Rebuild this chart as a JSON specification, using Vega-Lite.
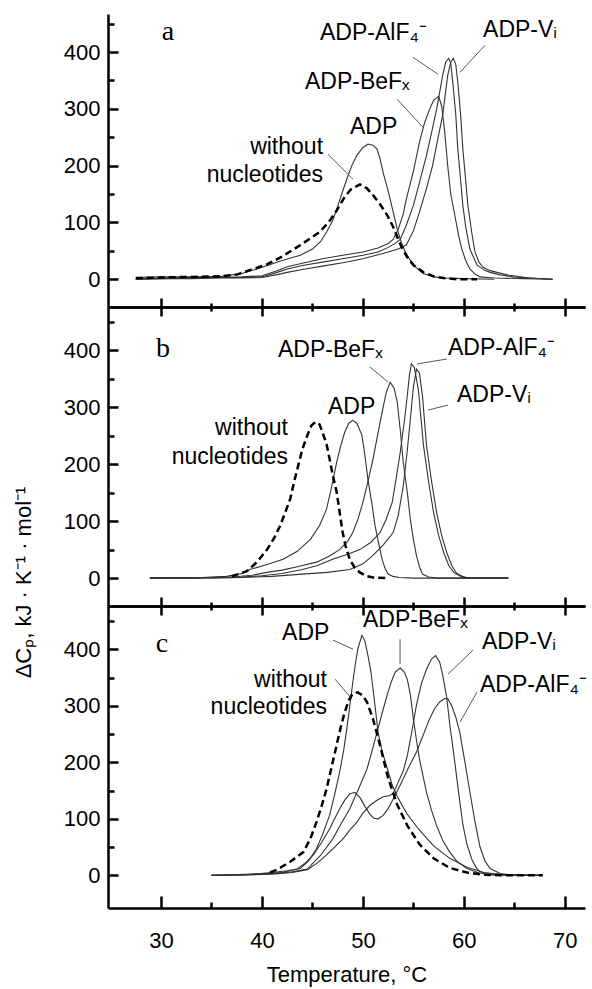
{
"$schema":"https://vega.github.io/schema/vega-lite/v6.json",
"padding":{"left":12,"top":12,"right":2,"bottom":2},
"background":"white",
"bounds":"flush",
"spacing":0,
"config":{"view":{"stroke":null},"axis":{"grid":false,"domainColor":"black","tickColor":"black","domainWidth":2.5,"tickWidth":2.5,"labelFont":"Liberation Sans","labelFontSize":22,"labelColor":"black","titleFont":"Liberation Sans","titleFontSize":22,"titleFontWeight":"normal","titleColor":"black","labelFlush":false,"labelOverlap":false}},
"datasets":{
"curves":[
{"p":"a","s":"none","T":27.5,"v":2},{"p":"a","s":"none","T":30,"v":3},{"p":"a","s":"none","T":33,"v":4},{"p":"a","s":"none","T":36,"v":5},{"p":"a","s":"none","T":37.5,"v":8},{"p":"a","s":"none","T":38.8,"v":16},{"p":"a","s":"none","T":40.5,"v":26},{"p":"a","s":"none","T":42,"v":40},{"p":"a","s":"none","T":43.8,"v":60},{"p":"a","s":"none","T":45.7,"v":83},{"p":"a","s":"none","T":46.6,"v":100},{"p":"a","s":"none","T":47.4,"v":121},{"p":"a","s":"none","T":48.2,"v":145},{"p":"a","s":"none","T":48.8,"v":158},{"p":"a","s":"none","T":49.7,"v":167},{"p":"a","s":"none","T":50.4,"v":160},{"p":"a","s":"none","T":51,"v":148},{"p":"a","s":"none","T":51.7,"v":132},{"p":"a","s":"none","T":52.4,"v":113},{"p":"a","s":"none","T":53,"v":92},{"p":"a","s":"none","T":53.5,"v":70},{"p":"a","s":"none","T":54,"v":50},{"p":"a","s":"none","T":54.5,"v":36},{"p":"a","s":"none","T":55,"v":25},{"p":"a","s":"none","T":56,"v":12},{"p":"a","s":"none","T":57,"v":5},{"p":"a","s":"none","T":58,"v":2},{"p":"a","s":"none","T":59.3,"v":0},{"p":"a","s":"none","T":61.3,"v":0},
{"p":"a","s":"ADP","T":27.5,"v":3},{"p":"a","s":"ADP","T":30,"v":4},{"p":"a","s":"ADP","T":33,"v":4},{"p":"a","s":"ADP","T":36,"v":5},{"p":"a","s":"ADP","T":38,"v":10},{"p":"a","s":"ADP","T":39.5,"v":18},{"p":"a","s":"ADP","T":42,"v":33},{"p":"a","s":"ADP","T":43.8,"v":42},{"p":"a","s":"ADP","T":45,"v":53},{"p":"a","s":"ADP","T":45.8,"v":66},{"p":"a","s":"ADP","T":46.4,"v":83},{"p":"a","s":"ADP","T":47,"v":103},{"p":"a","s":"ADP","T":47.4,"v":123},{"p":"a","s":"ADP","T":47.9,"v":150},{"p":"a","s":"ADP","T":48.4,"v":176},{"p":"a","s":"ADP","T":48.9,"v":200},{"p":"a","s":"ADP","T":49.4,"v":218},{"p":"a","s":"ADP","T":50,"v":232},{"p":"a","s":"ADP","T":50.5,"v":238},{"p":"a","s":"ADP","T":51,"v":236},{"p":"a","s":"ADP","T":51.4,"v":229},{"p":"a","s":"ADP","T":51.7,"v":212},{"p":"a","s":"ADP","T":52,"v":188},{"p":"a","s":"ADP","T":52.4,"v":162},{"p":"a","s":"ADP","T":52.7,"v":141},{"p":"a","s":"ADP","T":53,"v":118},{"p":"a","s":"ADP","T":53.4,"v":88},{"p":"a","s":"ADP","T":53.8,"v":65},{"p":"a","s":"ADP","T":54.2,"v":48},{"p":"a","s":"ADP","T":54.7,"v":33},{"p":"a","s":"ADP","T":55.3,"v":20},{"p":"a","s":"ADP","T":56,"v":10},{"p":"a","s":"ADP","T":57,"v":4},{"p":"a","s":"ADP","T":58,"v":2},{"p":"a","s":"ADP","T":60,"v":1},{"p":"a","s":"ADP","T":63,"v":0},
{"p":"a","s":"BeF","T":27.5,"v":0},{"p":"a","s":"BeF","T":30,"v":2},{"p":"a","s":"BeF","T":33,"v":3},{"p":"a","s":"BeF","T":36,"v":3},{"p":"a","s":"BeF","T":38,"v":4},{"p":"a","s":"BeF","T":40,"v":6},{"p":"a","s":"BeF","T":41.5,"v":15},{"p":"a","s":"BeF","T":42.5,"v":22},{"p":"a","s":"BeF","T":44,"v":28},{"p":"a","s":"BeF","T":46,"v":36},{"p":"a","s":"BeF","T":48,"v":42},{"p":"a","s":"BeF","T":50,"v":48},{"p":"a","s":"BeF","T":51.5,"v":55},{"p":"a","s":"BeF","T":52.5,"v":63},{"p":"a","s":"BeF","T":53,"v":70},{"p":"a","s":"BeF","T":53.5,"v":88},{"p":"a","s":"BeF","T":54,"v":115},{"p":"a","s":"BeF","T":54.3,"v":141},{"p":"a","s":"BeF","T":55,"v":190},{"p":"a","s":"BeF","T":55.6,"v":241},{"p":"a","s":"BeF","T":56.1,"v":275},{"p":"a","s":"BeF","T":56.6,"v":299},{"p":"a","s":"BeF","T":57,"v":315},{"p":"a","s":"BeF","T":57.5,"v":322},{"p":"a","s":"BeF","T":57.8,"v":305},{"p":"a","s":"BeF","T":58.1,"v":260},{"p":"a","s":"BeF","T":58.4,"v":200},{"p":"a","s":"BeF","T":58.7,"v":150},{"p":"a","s":"BeF","T":59.1,"v":113},{"p":"a","s":"BeF","T":59.5,"v":75},{"p":"a","s":"BeF","T":59.8,"v":53},{"p":"a","s":"BeF","T":60.2,"v":32},{"p":"a","s":"BeF","T":60.6,"v":18},{"p":"a","s":"BeF","T":61.1,"v":9},{"p":"a","s":"BeF","T":61.6,"v":4},{"p":"a","s":"BeF","T":63,"v":2},{"p":"a","s":"BeF","T":66,"v":1},{"p":"a","s":"BeF","T":68.8,"v":0},
{"p":"a","s":"AlF","T":27.5,"v":0},{"p":"a","s":"AlF","T":30,"v":1},{"p":"a","s":"AlF","T":33,"v":2},{"p":"a","s":"AlF","T":36,"v":3},{"p":"a","s":"AlF","T":38,"v":3},{"p":"a","s":"AlF","T":40,"v":4},{"p":"a","s":"AlF","T":41.5,"v":12},{"p":"a","s":"AlF","T":42.5,"v":18},{"p":"a","s":"AlF","T":44,"v":24},{"p":"a","s":"AlF","T":46,"v":30},{"p":"a","s":"AlF","T":48,"v":36},{"p":"a","s":"AlF","T":50,"v":42},{"p":"a","s":"AlF","T":51.5,"v":48},{"p":"a","s":"AlF","T":52.5,"v":56},{"p":"a","s":"AlF","T":53.2,"v":63},{"p":"a","s":"AlF","T":53.7,"v":70},{"p":"a","s":"AlF","T":54.3,"v":95},{"p":"a","s":"AlF","T":55,"v":130},{"p":"a","s":"AlF","T":55.6,"v":170},{"p":"a","s":"AlF","T":56.3,"v":218},{"p":"a","s":"AlF","T":56.8,"v":258},{"p":"a","s":"AlF","T":57.3,"v":299},{"p":"a","s":"AlF","T":57.9,"v":359},{"p":"a","s":"AlF","T":58.2,"v":382},{"p":"a","s":"AlF","T":58.5,"v":389},{"p":"a","s":"AlF","T":58.7,"v":380},{"p":"a","s":"AlF","T":58.9,"v":347},{"p":"a","s":"AlF","T":59.2,"v":290},{"p":"a","s":"AlF","T":59.4,"v":229},{"p":"a","s":"AlF","T":59.7,"v":170},{"p":"a","s":"AlF","T":59.9,"v":130},{"p":"a","s":"AlF","T":60.2,"v":90},{"p":"a","s":"AlF","T":60.6,"v":53},{"p":"a","s":"AlF","T":61.3,"v":25},{"p":"a","s":"AlF","T":62,"v":16},{"p":"a","s":"AlF","T":62.6,"v":12},{"p":"a","s":"AlF","T":63.5,"v":8},{"p":"a","s":"AlF","T":64.9,"v":4},{"p":"a","s":"AlF","T":66.5,"v":2},{"p":"a","s":"AlF","T":68.8,"v":0},
{"p":"a","s":"Vi","T":27.5,"v":0},{"p":"a","s":"Vi","T":30,"v":1},{"p":"a","s":"Vi","T":33,"v":1},{"p":"a","s":"Vi","T":36,"v":2},{"p":"a","s":"Vi","T":38,"v":2},{"p":"a","s":"Vi","T":40,"v":3},{"p":"a","s":"Vi","T":41.5,"v":8},{"p":"a","s":"Vi","T":42.5,"v":12},{"p":"a","s":"Vi","T":44,"v":17},{"p":"a","s":"Vi","T":46,"v":23},{"p":"a","s":"Vi","T":48,"v":29},{"p":"a","s":"Vi","T":50,"v":36},{"p":"a","s":"Vi","T":51.5,"v":43},{"p":"a","s":"Vi","T":52.5,"v":48},{"p":"a","s":"Vi","T":53.5,"v":53},{"p":"a","s":"Vi","T":54.3,"v":60},{"p":"a","s":"Vi","T":55,"v":85},{"p":"a","s":"Vi","T":55.6,"v":118},{"p":"a","s":"Vi","T":56.3,"v":160},{"p":"a","s":"Vi","T":56.9,"v":200},{"p":"a","s":"Vi","T":57.4,"v":245},{"p":"a","s":"Vi","T":57.9,"v":289},{"p":"a","s":"Vi","T":58.4,"v":359},{"p":"a","s":"Vi","T":58.7,"v":382},{"p":"a","s":"Vi","T":58.95,"v":389},{"p":"a","s":"Vi","T":59.2,"v":378},{"p":"a","s":"Vi","T":59.4,"v":347},{"p":"a","s":"Vi","T":59.7,"v":285},{"p":"a","s":"Vi","T":59.9,"v":229},{"p":"a","s":"Vi","T":60.2,"v":170},{"p":"a","s":"Vi","T":60.4,"v":130},{"p":"a","s":"Vi","T":60.8,"v":80},{"p":"a","s":"Vi","T":61.1,"v":48},{"p":"a","s":"Vi","T":61.5,"v":30},{"p":"a","s":"Vi","T":61.9,"v":21},{"p":"a","s":"Vi","T":62.6,"v":15},{"p":"a","s":"Vi","T":63.3,"v":12},{"p":"a","s":"Vi","T":64.5,"v":7},{"p":"a","s":"Vi","T":66.5,"v":2},{"p":"a","s":"Vi","T":68.8,"v":0},
{"p":"b","s":"none","T":37,"v":3},{"p":"b","s":"none","T":38.5,"v":12},{"p":"b","s":"none","T":39.5,"v":28},{"p":"b","s":"none","T":40.5,"v":50},{"p":"b","s":"none","T":41.2,"v":70},{"p":"b","s":"none","T":41.8,"v":92},{"p":"b","s":"none","T":42.3,"v":115},{"p":"b","s":"none","T":42.8,"v":139},{"p":"b","s":"none","T":43.2,"v":170},{"p":"b","s":"none","T":43.6,"v":198},{"p":"b","s":"none","T":44,"v":226},{"p":"b","s":"none","T":44.5,"v":251},{"p":"b","s":"none","T":44.9,"v":268},{"p":"b","s":"none","T":45.3,"v":274},{"p":"b","s":"none","T":45.7,"v":270},{"p":"b","s":"none","T":46,"v":256},{"p":"b","s":"none","T":46.4,"v":235},{"p":"b","s":"none","T":46.7,"v":209},{"p":"b","s":"none","T":47,"v":182},{"p":"b","s":"none","T":47.4,"v":151},{"p":"b","s":"none","T":47.7,"v":115},{"p":"b","s":"none","T":48,"v":80},{"p":"b","s":"none","T":48.3,"v":55},{"p":"b","s":"none","T":48.7,"v":33},{"p":"b","s":"none","T":49.2,"v":18},{"p":"b","s":"none","T":49.7,"v":10},{"p":"b","s":"none","T":50.3,"v":4},{"p":"b","s":"none","T":51,"v":1},{"p":"b","s":"none","T":52.4,"v":0},
{"p":"b","s":"ADP","T":28.9,"v":0},{"p":"b","s":"ADP","T":31,"v":1},{"p":"b","s":"ADP","T":33,"v":0},{"p":"b","s":"ADP","T":35,"v":2},{"p":"b","s":"ADP","T":36.5,"v":3},{"p":"b","s":"ADP","T":38,"v":8},{"p":"b","s":"ADP","T":38.8,"v":15},{"p":"b","s":"ADP","T":40.5,"v":24},{"p":"b","s":"ADP","T":42.1,"v":33},{"p":"b","s":"ADP","T":43.5,"v":47},{"p":"b","s":"ADP","T":44.8,"v":68},{"p":"b","s":"ADP","T":45.7,"v":92},{"p":"b","s":"ADP","T":46.4,"v":121},{"p":"b","s":"ADP","T":46.9,"v":160},{"p":"b","s":"ADP","T":47.4,"v":203},{"p":"b","s":"ADP","T":47.8,"v":232},{"p":"b","s":"ADP","T":48.2,"v":256},{"p":"b","s":"ADP","T":48.6,"v":272},{"p":"b","s":"ADP","T":49,"v":277},{"p":"b","s":"ADP","T":49.4,"v":272},{"p":"b","s":"ADP","T":49.9,"v":251},{"p":"b","s":"ADP","T":50.2,"v":215},{"p":"b","s":"ADP","T":50.5,"v":173},{"p":"b","s":"ADP","T":50.9,"v":130},{"p":"b","s":"ADP","T":51.2,"v":92},{"p":"b","s":"ADP","T":51.6,"v":58},{"p":"b","s":"ADP","T":51.9,"v":33},{"p":"b","s":"ADP","T":52.2,"v":17},{"p":"b","s":"ADP","T":52.5,"v":7},{"p":"b","s":"ADP","T":53,"v":3},{"p":"b","s":"ADP","T":53.6,"v":1},{"p":"b","s":"ADP","T":55,"v":0},{"p":"b","s":"ADP","T":64.4,"v":0},
{"p":"b","s":"BeF","T":28.9,"v":0},{"p":"b","s":"BeF","T":32,"v":1},{"p":"b","s":"BeF","T":35,"v":1},{"p":"b","s":"BeF","T":37,"v":2},{"p":"b","s":"BeF","T":39,"v":5},{"p":"b","s":"BeF","T":40.5,"v":10},{"p":"b","s":"BeF","T":42,"v":14},{"p":"b","s":"BeF","T":43.5,"v":20},{"p":"b","s":"BeF","T":45.4,"v":28},{"p":"b","s":"BeF","T":46.6,"v":38},{"p":"b","s":"BeF","T":47.7,"v":50},{"p":"b","s":"BeF","T":48.5,"v":65},{"p":"b","s":"BeF","T":49,"v":80},{"p":"b","s":"BeF","T":49.5,"v":103},{"p":"b","s":"BeF","T":50,"v":133},{"p":"b","s":"BeF","T":50.5,"v":170},{"p":"b","s":"BeF","T":51,"v":209},{"p":"b","s":"BeF","T":51.5,"v":255},{"p":"b","s":"BeF","T":51.9,"v":291},{"p":"b","s":"BeF","T":52.3,"v":325},{"p":"b","s":"BeF","T":52.7,"v":344},{"p":"b","s":"BeF","T":53.1,"v":333},{"p":"b","s":"BeF","T":53.4,"v":309},{"p":"b","s":"BeF","T":53.7,"v":260},{"p":"b","s":"BeF","T":54,"v":203},{"p":"b","s":"BeF","T":54.4,"v":150},{"p":"b","s":"BeF","T":54.7,"v":103},{"p":"b","s":"BeF","T":55,"v":68},{"p":"b","s":"BeF","T":55.3,"v":40},{"p":"b","s":"BeF","T":55.6,"v":20},{"p":"b","s":"BeF","T":55.9,"v":7},{"p":"b","s":"BeF","T":56.5,"v":2},{"p":"b","s":"BeF","T":57.5,"v":0},{"p":"b","s":"BeF","T":64.4,"v":0},
{"p":"b","s":"AlF","T":28.9,"v":0},{"p":"b","s":"AlF","T":32,"v":0},{"p":"b","s":"AlF","T":35,"v":1},{"p":"b","s":"AlF","T":38,"v":2},{"p":"b","s":"AlF","T":40,"v":4},{"p":"b","s":"AlF","T":42,"v":8},{"p":"b","s":"AlF","T":44,"v":15},{"p":"b","s":"AlF","T":45.5,"v":22},{"p":"b","s":"AlF","T":47,"v":33},{"p":"b","s":"AlF","T":48.5,"v":42},{"p":"b","s":"AlF","T":49.7,"v":50},{"p":"b","s":"AlF","T":50.8,"v":63},{"p":"b","s":"AlF","T":51.7,"v":80},{"p":"b","s":"AlF","T":52.3,"v":103},{"p":"b","s":"AlF","T":52.9,"v":133},{"p":"b","s":"AlF","T":53.3,"v":175},{"p":"b","s":"AlF","T":53.7,"v":221},{"p":"b","s":"AlF","T":54.1,"v":275},{"p":"b","s":"AlF","T":54.4,"v":321},{"p":"b","s":"AlF","T":54.6,"v":355},{"p":"b","s":"AlF","T":54.8,"v":376},{"p":"b","s":"AlF","T":55.1,"v":370},{"p":"b","s":"AlF","T":55.5,"v":330},{"p":"b","s":"AlF","T":55.7,"v":290},{"p":"b","s":"AlF","T":56,"v":233},{"p":"b","s":"AlF","T":56.5,"v":170},{"p":"b","s":"AlF","T":57,"v":115},{"p":"b","s":"AlF","T":57.5,"v":75},{"p":"b","s":"AlF","T":58,"v":45},{"p":"b","s":"AlF","T":58.5,"v":22},{"p":"b","s":"AlF","T":59,"v":10},{"p":"b","s":"AlF","T":59.7,"v":3},{"p":"b","s":"AlF","T":60.5,"v":0},{"p":"b","s":"AlF","T":64.4,"v":0},
{"p":"b","s":"Vi","T":28.9,"v":0},{"p":"b","s":"Vi","T":32,"v":0},{"p":"b","s":"Vi","T":35,"v":0},{"p":"b","s":"Vi","T":38,"v":1},{"p":"b","s":"Vi","T":41,"v":3},{"p":"b","s":"Vi","T":44,"v":7},{"p":"b","s":"Vi","T":46.5,"v":10},{"p":"b","s":"Vi","T":48.7,"v":15},{"p":"b","s":"Vi","T":50,"v":25},{"p":"b","s":"Vi","T":51,"v":40},{"p":"b","s":"Vi","T":52,"v":58},{"p":"b","s":"Vi","T":53,"v":80},{"p":"b","s":"Vi","T":53.5,"v":110},{"p":"b","s":"Vi","T":54,"v":162},{"p":"b","s":"Vi","T":54.4,"v":225},{"p":"b","s":"Vi","T":54.7,"v":279},{"p":"b","s":"Vi","T":55,"v":335},{"p":"b","s":"Vi","T":55.3,"v":367},{"p":"b","s":"Vi","T":55.6,"v":360},{"p":"b","s":"Vi","T":55.9,"v":320},{"p":"b","s":"Vi","T":56.3,"v":233},{"p":"b","s":"Vi","T":56.8,"v":170},{"p":"b","s":"Vi","T":57.3,"v":115},{"p":"b","s":"Vi","T":57.8,"v":75},{"p":"b","s":"Vi","T":58.3,"v":45},{"p":"b","s":"Vi","T":58.8,"v":22},{"p":"b","s":"Vi","T":59.3,"v":8},{"p":"b","s":"Vi","T":60,"v":2},{"p":"b","s":"Vi","T":60.5,"v":0},{"p":"b","s":"Vi","T":64.4,"v":0},
{"p":"c","s":"none","T":40.8,"v":5},{"p":"c","s":"none","T":41.5,"v":10},{"p":"c","s":"none","T":42.8,"v":24},{"p":"c","s":"none","T":44.1,"v":41},{"p":"c","s":"none","T":44.8,"v":65},{"p":"c","s":"none","T":45.4,"v":94},{"p":"c","s":"none","T":45.9,"v":122},{"p":"c","s":"none","T":46.4,"v":153},{"p":"c","s":"none","T":46.9,"v":192},{"p":"c","s":"none","T":47.4,"v":231},{"p":"c","s":"none","T":47.8,"v":262},{"p":"c","s":"none","T":48.2,"v":289},{"p":"c","s":"none","T":48.6,"v":310},{"p":"c","s":"none","T":49,"v":322},{"p":"c","s":"none","T":49.5,"v":324},{"p":"c","s":"none","T":50,"v":318},{"p":"c","s":"none","T":50.4,"v":307},{"p":"c","s":"none","T":51,"v":277},{"p":"c","s":"none","T":51.7,"v":230},{"p":"c","s":"none","T":52.5,"v":172},{"p":"c","s":"none","T":53.4,"v":125},{"p":"c","s":"none","T":54.4,"v":88},{"p":"c","s":"none","T":55.6,"v":55},{"p":"c","s":"none","T":57,"v":30},{"p":"c","s":"none","T":58.6,"v":13},{"p":"c","s":"none","T":60.3,"v":5},{"p":"c","s":"none","T":62,"v":1},{"p":"c","s":"none","T":64,"v":0},{"p":"c","s":"none","T":67.8,"v":0},
{"p":"c","s":"ADP","T":35,"v":0},{"p":"c","s":"ADP","T":37,"v":1},{"p":"c","s":"ADP","T":39,"v":2},{"p":"c","s":"ADP","T":41,"v":5},{"p":"c","s":"ADP","T":42.5,"v":8},{"p":"c","s":"ADP","T":43.8,"v":12},{"p":"c","s":"ADP","T":44.6,"v":25},{"p":"c","s":"ADP","T":45.4,"v":47},{"p":"c","s":"ADP","T":46,"v":72},{"p":"c","s":"ADP","T":46.7,"v":106},{"p":"c","s":"ADP","T":47.2,"v":143},{"p":"c","s":"ADP","T":47.7,"v":183},{"p":"c","s":"ADP","T":48.1,"v":222},{"p":"c","s":"ADP","T":48.4,"v":259},{"p":"c","s":"ADP","T":48.7,"v":300},{"p":"c","s":"ADP","T":49,"v":342},{"p":"c","s":"ADP","T":49.3,"v":380},{"p":"c","s":"ADP","T":49.5,"v":401},{"p":"c","s":"ADP","T":49.9,"v":425},{"p":"c","s":"ADP","T":50.2,"v":415},{"p":"c","s":"ADP","T":50.5,"v":389},{"p":"c","s":"ADP","T":50.8,"v":360},{"p":"c","s":"ADP","T":51,"v":330},{"p":"c","s":"ADP","T":51.3,"v":285},{"p":"c","s":"ADP","T":51.5,"v":253},{"p":"c","s":"ADP","T":51.9,"v":220},{"p":"c","s":"ADP","T":52.4,"v":190},{"p":"c","s":"ADP","T":52.9,"v":160},{"p":"c","s":"ADP","T":53.4,"v":140},{"p":"c","s":"ADP","T":54,"v":120},{"p":"c","s":"ADP","T":54.4,"v":108},{"p":"c","s":"ADP","T":55.5,"v":82},{"p":"c","s":"ADP","T":57,"v":52},{"p":"c","s":"ADP","T":58.6,"v":30},{"p":"c","s":"ADP","T":60.3,"v":14},{"p":"c","s":"ADP","T":62,"v":5},{"p":"c","s":"ADP","T":64,"v":1},{"p":"c","s":"ADP","T":67.8,"v":0},
{"p":"c","s":"BeF","T":35,"v":0},{"p":"c","s":"BeF","T":38,"v":1},{"p":"c","s":"BeF","T":41,"v":3},{"p":"c","s":"BeF","T":43,"v":6},{"p":"c","s":"BeF","T":44.5,"v":11},{"p":"c","s":"BeF","T":45.8,"v":35},{"p":"c","s":"BeF","T":47,"v":64},{"p":"c","s":"BeF","T":47.8,"v":90},{"p":"c","s":"BeF","T":48.7,"v":118},{"p":"c","s":"BeF","T":49.5,"v":150},{"p":"c","s":"BeF","T":50.4,"v":188},{"p":"c","s":"BeF","T":50.9,"v":220},{"p":"c","s":"BeF","T":51.4,"v":253},{"p":"c","s":"BeF","T":51.9,"v":287},{"p":"c","s":"BeF","T":52.4,"v":319},{"p":"c","s":"BeF","T":52.8,"v":342},{"p":"c","s":"BeF","T":53.2,"v":360},{"p":"c","s":"BeF","T":53.7,"v":367},{"p":"c","s":"BeF","T":54.1,"v":360},{"p":"c","s":"BeF","T":54.4,"v":347},{"p":"c","s":"BeF","T":54.7,"v":320},{"p":"c","s":"BeF","T":55,"v":277},{"p":"c","s":"BeF","T":55.3,"v":240},{"p":"c","s":"BeF","T":55.6,"v":206},{"p":"c","s":"BeF","T":56,"v":172},{"p":"c","s":"BeF","T":56.3,"v":147},{"p":"c","s":"BeF","T":56.8,"v":115},{"p":"c","s":"BeF","T":57.3,"v":88},{"p":"c","s":"BeF","T":57.9,"v":62},{"p":"c","s":"BeF","T":58.6,"v":41},{"p":"c","s":"BeF","T":59.3,"v":25},{"p":"c","s":"BeF","T":60.3,"v":12},{"p":"c","s":"BeF","T":61.5,"v":4},{"p":"c","s":"BeF","T":63,"v":1},{"p":"c","s":"BeF","T":67.8,"v":0},
{"p":"c","s":"AlF","T":35,"v":0},{"p":"c","s":"AlF","T":38,"v":1},{"p":"c","s":"AlF","T":40.5,"v":3},{"p":"c","s":"AlF","T":42,"v":5},{"p":"c","s":"AlF","T":43.5,"v":11},{"p":"c","s":"AlF","T":44.3,"v":22},{"p":"c","s":"AlF","T":45.1,"v":36},{"p":"c","s":"AlF","T":45.9,"v":58},{"p":"c","s":"AlF","T":46.7,"v":82},{"p":"c","s":"AlF","T":47.2,"v":100},{"p":"c","s":"AlF","T":47.7,"v":118},{"p":"c","s":"AlF","T":48.2,"v":133},{"p":"c","s":"AlF","T":48.7,"v":144},{"p":"c","s":"AlF","T":49.2,"v":147},{"p":"c","s":"AlF","T":49.7,"v":138},{"p":"c","s":"AlF","T":50.2,"v":122},{"p":"c","s":"AlF","T":50.7,"v":108},{"p":"c","s":"AlF","T":51.1,"v":101},{"p":"c","s":"AlF","T":51.5,"v":100},{"p":"c","s":"AlF","T":52,"v":106},{"p":"c","s":"AlF","T":52.5,"v":118},{"p":"c","s":"AlF","T":53,"v":135},{"p":"c","s":"AlF","T":53.7,"v":160},{"p":"c","s":"AlF","T":54.5,"v":190},{"p":"c","s":"AlF","T":55.3,"v":218},{"p":"c","s":"AlF","T":55.9,"v":245},{"p":"c","s":"AlF","T":56.6,"v":277},{"p":"c","s":"AlF","T":57.1,"v":295},{"p":"c","s":"AlF","T":57.6,"v":307},{"p":"c","s":"AlF","T":58.1,"v":313},{"p":"c","s":"AlF","T":58.4,"v":313},{"p":"c","s":"AlF","T":58.8,"v":300},{"p":"c","s":"AlF","T":59.2,"v":280},{"p":"c","s":"AlF","T":59.6,"v":253},{"p":"c","s":"AlF","T":60.1,"v":201},{"p":"c","s":"AlF","T":60.6,"v":147},{"p":"c","s":"AlF","T":61.1,"v":95},{"p":"c","s":"AlF","T":61.6,"v":50},{"p":"c","s":"AlF","T":62.1,"v":25},{"p":"c","s":"AlF","T":62.6,"v":12},{"p":"c","s":"AlF","T":63.6,"v":3},{"p":"c","s":"AlF","T":65,"v":0},{"p":"c","s":"AlF","T":67.8,"v":0},
{"p":"c","s":"Vi","T":35,"v":0},{"p":"c","s":"Vi","T":38,"v":0},{"p":"c","s":"Vi","T":41,"v":2},{"p":"c","s":"Vi","T":43,"v":5},{"p":"c","s":"Vi","T":44.5,"v":10},{"p":"c","s":"Vi","T":45.5,"v":22},{"p":"c","s":"Vi","T":46.4,"v":36},{"p":"c","s":"Vi","T":47.2,"v":50},{"p":"c","s":"Vi","T":48,"v":64},{"p":"c","s":"Vi","T":48.7,"v":80},{"p":"c","s":"Vi","T":49.4,"v":94},{"p":"c","s":"Vi","T":50,"v":110},{"p":"c","s":"Vi","T":50.7,"v":124},{"p":"c","s":"Vi","T":51.4,"v":133},{"p":"c","s":"Vi","T":52,"v":139},{"p":"c","s":"Vi","T":52.6,"v":141},{"p":"c","s":"Vi","T":53,"v":145},{"p":"c","s":"Vi","T":53.5,"v":165},{"p":"c","s":"Vi","T":54,"v":185},{"p":"c","s":"Vi","T":54.4,"v":212},{"p":"c","s":"Vi","T":54.9,"v":260},{"p":"c","s":"Vi","T":55.3,"v":301},{"p":"c","s":"Vi","T":55.8,"v":340},{"p":"c","s":"Vi","T":56.3,"v":365},{"p":"c","s":"Vi","T":56.8,"v":383},{"p":"c","s":"Vi","T":57.2,"v":389},{"p":"c","s":"Vi","T":57.6,"v":378},{"p":"c","s":"Vi","T":57.9,"v":355},{"p":"c","s":"Vi","T":58.3,"v":315},{"p":"c","s":"Vi","T":58.6,"v":268},{"p":"c","s":"Vi","T":59,"v":215},{"p":"c","s":"Vi","T":59.3,"v":172},{"p":"c","s":"Vi","T":59.6,"v":130},{"p":"c","s":"Vi","T":59.9,"v":90},{"p":"c","s":"Vi","T":60.3,"v":55},{"p":"c","s":"Vi","T":60.8,"v":28},{"p":"c","s":"Vi","T":61.2,"v":14},{"p":"c","s":"Vi","T":61.6,"v":6},{"p":"c","s":"Vi","T":62.5,"v":1},{"p":"c","s":"Vi","T":63.5,"v":0},{"p":"c","s":"Vi","T":67.8,"v":0}
],
"labels":[
{"p":"a","k":"letter","t":"a","T":30.69,"v":421},
{"p":"a","k":"lab","t":"ADP-AlF₄⁻","T":45.75,"v":421},
{"p":"a","k":"lab","t":"ADP-Vᵢ","T":61.9,"v":426},
{"p":"a","k":"lab","t":"ADP-BeFₓ","T":44.26,"v":334.5},
{"p":"a","k":"lab","t":"ADP","T":48.72,"v":255},
{"p":"a","k":"multi","t":"without\nnucleotides","T":46.05,"v":220},
{"p":"b","k":"letter","t":"b","T":30.2,"v":388},
{"p":"b","k":"lab","t":"ADP","T":46.54,"v":288},
{"p":"b","k":"lab","t":"ADP-BeFₓ","T":41.59,"v":388},
{"p":"b","k":"lab","t":"ADP-AlF₄⁻","T":58.43,"v":391.7},
{"p":"b","k":"lab","t":"ADP-Vᵢ","T":59.32,"v":309},
{"p":"b","k":"multi","t":"without\nnucleotides","T":42.58,"v":251},
{"p":"c","k":"letter","t":"c","T":30.1,"v":395},
{"p":"c","k":"lab","t":"ADP","T":41.99,"v":416.5},
{"p":"c","k":"lab","t":"ADP-BeFₓ","T":50.01,"v":439.5},
{"p":"c","k":"lab","t":"ADP-Vᵢ","T":61.8,"v":400.5},
{"p":"c","k":"lab","t":"ADP-AlF₄⁻","T":61.6,"v":324.4},
{"p":"c","k":"multi","t":"without\nnucleotides","T":46.44,"v":333.3}
],
"leaders":[
{"p":"a","T":54.96,"v":390.8,"T2":57.44,"v2":360.9},
{"p":"a","T":62.1,"v":412,"T2":59.62,"v2":364.4},
{"p":"a","T":53.38,"v":316.9,"T2":55.95,"v2":267.6},
{"p":"a","T":46.54,"v":220,"T2":49.02,"v2":176},
{"p":"b","T":50.7,"v":370.6,"T2":52.49,"v2":344.2},
{"p":"b","T":58.33,"v":384.7,"T2":55.36,"v2":375.9},
{"p":"b","T":58.43,"v":303.8,"T2":56.45,"v2":295},
{"p":"c","T":47.04,"v":416.5,"T2":49.02,"v2":400.5},
{"p":"c","T":53.68,"v":418.2,"T2":53.68,"v2":374},
{"p":"c","T":60.9,"v":398.8,"T2":58.43,"v2":356.3},
{"p":"c","T":61.3,"v":324.4,"T2":59.62,"v2":271.3},
{"p":"c","T":47.24,"v":347.4,"T2":48.92,"v2":312}
]
},
"vconcat":[
{"width":477,"height":293,"resolve":{"axis":{"x":"independent","y":"independent"}},
"layer":[
{"data":{"name":"curves"},"transform":[{"filter":"datum.p === 'a' && datum.s !== 'none'"}],"mark":{"type":"line","color":"#333","strokeWidth":1.1},
"encoding":{"x":{"field":"T","type":"quantitative","scale":{"domain":[24.75,72],"nice":false,"zero":false},"axis":{"orient":"bottom","values":[30,35,40,45,50,55,60,65,70],"tickSize":{"condition":{"test":"datum.value % 10 === 0","value":9},"value":4},"labels":false,"title":null}},
"y":{"field":"v","type":"quantitative","scale":{"domain":[-49,467],"nice":false,"zero":false},"axis":{"orient":"left","values":[0,50,100,150,200,250,300,350,400,450],"tickSize":{"condition":{"test":"datum.value % 100 === 0","value":-10},"value":-6},"labelExpr":"datum.value % 100 === 0 ? datum.label : ''","labelPadding":18,"title":null}},
"detail":{"field":"s"}}},
{"data":{"name":"curves"},"transform":[{"filter":"datum.p === 'a' && datum.s === 'none'"}],"mark":{"type":"line","color":"black","strokeWidth":2.5,"strokeDash":[7,4]},
"encoding":{"x":{"field":"T","type":"quantitative","axis":null},"y":{"field":"v","type":"quantitative","axis":null}}},
{"data":{"name":"leaders"},"transform":[{"filter":"datum.p === 'a'"}],"mark":{"type":"rule","color":"#444","strokeWidth":0.9},
"encoding":{"x":{"field":"T","type":"quantitative","axis":null},"y":{"field":"v","type":"quantitative","axis":null},"x2":{"field":"T2"},"y2":{"field":"v2"}}},
{"data":{"name":"labels"},"transform":[{"filter":"datum.p === 'a' && datum.k === 'lab'"}],"mark":{"type":"text","font":"Liberation Sans","fontSize":23,"align":"left","baseline":"alphabetic","color":"black"},
"encoding":{"x":{"field":"T","type":"quantitative","axis":null},"y":{"field":"v","type":"quantitative","axis":null},"text":{"field":"t"}}},
{"data":{"name":"labels"},"transform":[{"filter":"datum.p === 'a' && datum.k === 'multi'"}],"mark":{"type":"text","font":"Liberation Sans","fontSize":23,"align":"right","baseline":"alphabetic","lineBreak":"\n","lineHeight":28,"color":"black"},
"encoding":{"x":{"field":"T","type":"quantitative","axis":null},"y":{"field":"v","type":"quantitative","axis":null},"text":{"field":"t"}}},
{"data":{"name":"labels"},"transform":[{"filter":"datum.p === 'a' && datum.k === 'letter'"}],"mark":{"type":"text","font":"Liberation Serif","fontSize":28,"align":"center","baseline":"alphabetic","color":"black"},
"encoding":{"x":{"field":"T","type":"quantitative","axis":null},"y":{"field":"v","type":"quantitative","axis":null},"text":{"field":"t"}}}
]},
{"width":477,"height":299,"resolve":{"axis":{"x":"independent","y":"independent"}},
"layer":[
{"data":{"name":"curves"},"transform":[{"filter":"datum.p === 'b' && datum.s !== 'none'"}],"mark":{"type":"line","color":"#333","strokeWidth":1.1},
"encoding":{"x":{"field":"T","type":"quantitative","scale":{"domain":[24.75,72],"nice":false,"zero":false},"axis":{"orient":"bottom","values":[30,35,40,45,50,55,60,65,70],"tickSize":{"condition":{"test":"datum.value % 10 === 0","value":9},"value":4},"labels":false,"title":null}},
"y":{"field":"v","type":"quantitative","scale":{"domain":[-49,476],"nice":false,"zero":false},"axis":{"orient":"left","values":[0,50,100,150,200,250,300,350,400,450],"tickSize":{"condition":{"test":"datum.value % 100 === 0","value":-10},"value":-6},"labelExpr":"datum.value % 100 === 0 ? datum.label : ''","labelPadding":18,"title":"ΔCₚ, kJ · K⁻¹ · mol⁻¹","titleX":-85,"titleY":275,"titleAngle":-90,"titleAlign":"center","titleBaseline":"middle"}},
"detail":{"field":"s"}}},
{"data":{"name":"curves"},"transform":[{"filter":"datum.p === 'b' && datum.s === 'none'"}],"mark":{"type":"line","color":"black","strokeWidth":2.5,"strokeDash":[7,4]},
"encoding":{"x":{"field":"T","type":"quantitative","axis":{"orient":"top","values":[30,35,40,45,50,55,60,65,70],"tickSize":{"condition":{"test":"datum.value % 10 === 0","value":9},"value":4},"labels":false,"title":null}},"y":{"field":"v","type":"quantitative","axis":null}}},
{"data":{"name":"leaders"},"transform":[{"filter":"datum.p === 'b'"}],"mark":{"type":"rule","color":"#444","strokeWidth":0.9},
"encoding":{"x":{"field":"T","type":"quantitative","axis":null},"y":{"field":"v","type":"quantitative","axis":null},"x2":{"field":"T2"},"y2":{"field":"v2"}}},
{"data":{"name":"labels"},"transform":[{"filter":"datum.p === 'b' && datum.k === 'lab'"}],"mark":{"type":"text","font":"Liberation Sans","fontSize":23,"align":"left","baseline":"alphabetic","color":"black"},
"encoding":{"x":{"field":"T","type":"quantitative","axis":null},"y":{"field":"v","type":"quantitative","axis":null},"text":{"field":"t"}}},
{"data":{"name":"labels"},"transform":[{"filter":"datum.p === 'b' && datum.k === 'multi'"}],"mark":{"type":"text","font":"Liberation Sans","fontSize":23,"align":"right","baseline":"alphabetic","lineBreak":"\n","lineHeight":29,"color":"black"},
"encoding":{"x":{"field":"T","type":"quantitative","axis":null},"y":{"field":"v","type":"quantitative","axis":null},"text":{"field":"t"}}},
{"data":{"name":"labels"},"transform":[{"filter":"datum.p === 'b' && datum.k === 'letter'"}],"mark":{"type":"text","font":"Liberation Serif","fontSize":28,"align":"center","baseline":"alphabetic","color":"black"},
"encoding":{"x":{"field":"T","type":"quantitative","axis":null},"y":{"field":"v","type":"quantitative","axis":null},"text":{"field":"t"}}}
]},
{"width":477,"height":302,"resolve":{"axis":{"x":"independent","y":"independent"}},
"layer":[
{"data":{"name":"curves"},"transform":[{"filter":"datum.p === 'c' && datum.s !== 'none'"}],"mark":{"type":"line","color":"#333","strokeWidth":1.1},
"encoding":{"x":{"field":"T","type":"quantitative","scale":{"domain":[24.75,72],"nice":false,"zero":false},"axis":{"orient":"bottom","values":[30,35,40,45,50,55,60,65,70],"tickSize":{"condition":{"test":"datum.value % 10 === 0","value":-12},"value":-6},"labelExpr":"datum.value % 10 === 0 ? datum.label : ''","labelPadding":34,"title":"Temperature, °C","titleY":73,"titleBaseline":"alphabetic"}},
"y":{"field":"v","type":"quantitative","scale":{"domain":[-58,477],"nice":false,"zero":false},"axis":{"orient":"left","values":[0,50,100,150,200,250,300,350,400,450],"tickSize":{"condition":{"test":"datum.value % 100 === 0","value":-10},"value":-6},"labelExpr":"datum.value % 100 === 0 ? datum.label : ''","labelPadding":18,"title":null}},
"detail":{"field":"s"}}},
{"data":{"name":"curves"},"transform":[{"filter":"datum.p === 'c' && datum.s === 'none'"}],"mark":{"type":"line","color":"black","strokeWidth":2.5,"strokeDash":[7,4]},
"encoding":{"x":{"field":"T","type":"quantitative","axis":{"orient":"top","values":[30,35,40,45,50,55,60,65,70],"tickSize":{"condition":{"test":"datum.value % 10 === 0","value":9},"value":4},"labels":false,"title":null}},"y":{"field":"v","type":"quantitative","axis":null}}},
{"data":{"name":"leaders"},"transform":[{"filter":"datum.p === 'c'"}],"mark":{"type":"rule","color":"#444","strokeWidth":0.9},
"encoding":{"x":{"field":"T","type":"quantitative","axis":null},"y":{"field":"v","type":"quantitative","axis":null},"x2":{"field":"T2"},"y2":{"field":"v2"}}},
{"data":{"name":"labels"},"transform":[{"filter":"datum.p === 'c' && datum.k === 'lab'"}],"mark":{"type":"text","font":"Liberation Sans","fontSize":23,"align":"left","baseline":"alphabetic","color":"black"},
"encoding":{"x":{"field":"T","type":"quantitative","axis":null},"y":{"field":"v","type":"quantitative","axis":null},"text":{"field":"t"}}},
{"data":{"name":"labels"},"transform":[{"filter":"datum.p === 'c' && datum.k === 'multi'"}],"mark":{"type":"text","font":"Liberation Sans","fontSize":23,"align":"right","baseline":"alphabetic","lineBreak":"\n","lineHeight":27,"color":"black"},
"encoding":{"x":{"field":"T","type":"quantitative","axis":null},"y":{"field":"v","type":"quantitative","axis":null},"text":{"field":"t"}}},
{"data":{"name":"labels"},"transform":[{"filter":"datum.p === 'c' && datum.k === 'letter'"}],"mark":{"type":"text","font":"Liberation Serif","fontSize":28,"align":"center","baseline":"alphabetic","color":"black"},
"encoding":{"x":{"field":"T","type":"quantitative","axis":null},"y":{"field":"v","type":"quantitative","axis":null},"text":{"field":"t"}}}
]}
]
}
